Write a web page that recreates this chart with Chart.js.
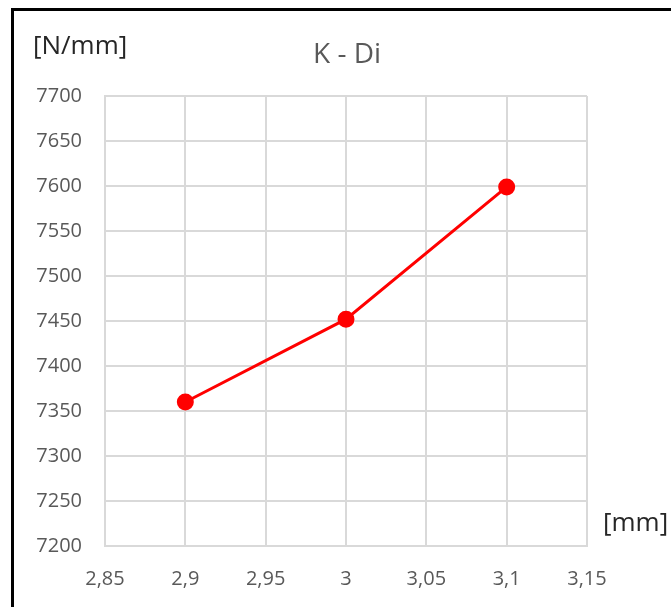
<!DOCTYPE html>
<html>
<head>
<meta charset="utf-8">
<script src="https://cdn.jsdelivr.net/npm/chart.js@4"></script>
<style>
    html, body { margin: 0; padding: 0; background: #fff; }
    #wrap { position: relative; width: 671px; height: 607px; overflow: hidden; }
    #frame { position: absolute; left: 11px; top: 8px; width: 700px; height: 700px; border: 3px solid #000; box-sizing: border-box; pointer-events: none; }
    canvas { position: absolute; left: 0; top: 0; }
</style>
</head>
<body>
<div id="wrap">
    <canvas id="chart" width="671" height="607"></canvas>
    <div id="frame"></div>
</div>
<script>
// Chart data
const diameters = [2.9, 3.0, 3.1];
const stiffness = [7360, 7452, 7599];
const chartTitle = 'K - Di';
const yUnit = '[N/mm]';
const xUnit = '[mm]';

const FONT = '"Open Sans", "Liberation Sans", sans-serif';
const GRID = '#d9d9d9';

// Title and unit labels at fixed spots
const labelsPlugin = {
    id: 'labels',
    afterDraw(chart) {
        const ctx = chart.ctx;
        ctx.save();
        ctx.textBaseline = 'middle';
        ctx.fillStyle = '#595959';
        ctx.font = '28px ' + FONT;
        ctx.textAlign = 'center';
        ctx.fillText(chartTitle, 347, 55);
        ctx.fillStyle = '#262626';
        ctx.font = '26px ' + FONT;
        ctx.textAlign = 'left';
        ctx.fillText(yUnit, 33, 47);
        ctx.fillText(xUnit, 603, 524);
        ctx.restore();
    }
};

function formatComma(value) {
    return Number(value.toFixed(2)).toString().replace('.', ',');
}

new Chart(document.getElementById('chart'), {
    type: 'line',
    data: {
        datasets: [{
            data: diameters.map((d, i) => ({ x: d, y: stiffness[i] })),
            borderColor: '#ff0000',
            backgroundColor: '#ff0000',
            borderWidth: 3,
            pointRadius: 7,
            pointHoverRadius: 7,
            tension: 0
        }]
    },
    options: {
        responsive: false,
        animation: false,
        layout: { padding: { left: 0, top: 96, right: 84, bottom: 0 } },
        plugins: {
            legend: { display: false },
            tooltip: { enabled: false }
        },
        scales: {
            x: {
                type: 'linear',
                min: 2.85,
                max: 3.15,
                afterFit: scale => { scale.height = 61; },
                grid: { color: GRID, lineWidth: 2, drawTicks: false },
                border: { color: GRID, width: 2 },
                ticks: {
                    stepSize: 0.05,
                    padding: 21,
                    color: '#595959',
                    font: { family: FONT, size: 20 },
                    callback: value => formatComma(value)
                }
            },
            y: {
                min: 7200,
                max: 7700,
                afterFit: scale => { scale.width = 105; },
                grid: { color: GRID, lineWidth: 2, drawTicks: false },
                border: { color: GRID, width: 2 },
                ticks: {
                    stepSize: 50,
                    padding: 23,
                    color: '#595959',
                    font: { family: FONT, size: 20 },
                    callback: value => String(value)
                }
            }
        }
    },
    plugins: [labelsPlugin]
});
</script>
</body>
</html>
